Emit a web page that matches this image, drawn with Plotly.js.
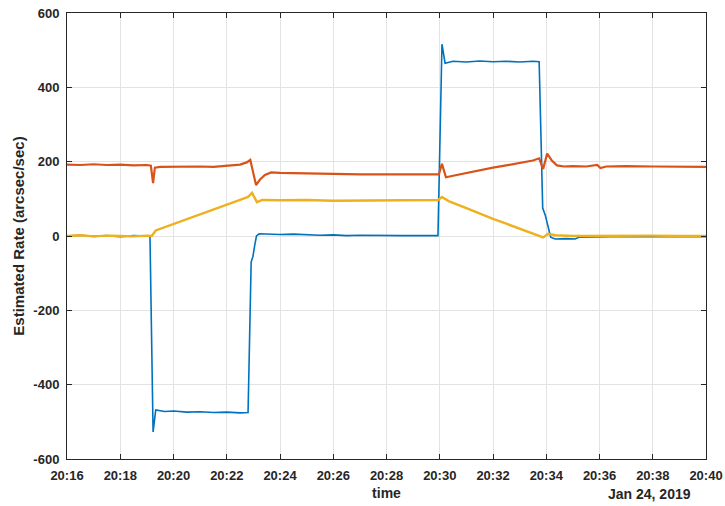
<!DOCTYPE html>
<html>
<head>
<meta charset="utf-8">
<script src="https://cdn.plot.ly/plotly-3.0.1.min.js"></script>
<style>html,body{margin:0;padding:0;background:#fff}#chart{width:725px;height:506px}</style>
</head>
<body>
<div id="chart"></div>
<script>
var day = "2019-01-24 ";

var blueTime = ["20:16:00","20:16:30","20:17:00","20:17:30","20:18:00","20:18:30","20:19:00","20:19:07","20:19:14","20:19:20","20:19:40","20:20:00","20:20:30","20:21:00","20:21:30","20:22:00","20:22:30","20:22:48","20:22:55","20:22:59","20:23:03","20:23:07","20:23:13","20:23:30","20:24:00","20:24:30","20:25:00","20:25:30","20:26:00","20:26:30","20:27:00","20:27:30","20:28:00","20:28:30","20:29:00","20:29:30","20:29:56","20:30:05","20:30:12","20:30:30","20:31:00","20:31:30","20:32:00","20:32:30","20:33:00","20:33:30","20:33:44","20:33:52","20:33:58","20:34:10","20:34:20","20:34:45","20:35:05","20:35:15","20:36:00","20:37:00","20:38:00","20:39:00","20:40:00"];
var blueRate = [0,2,-1,1,-2,1,0,0,-527,-468,-472,-471,-474,-473,-475,-474,-476,-475,-70,-55,-25,0,6,5,4,5,3,2,3,1,2,1,2,1,1,2,1,516,465,470,468,471,469,470,468,470,469,75,55,-3,-8,-7,-8,-3,-2,-1,-2,-1,-2];

var orangeTime = ["20:16:00","20:16:30","20:17:00","20:17:30","20:18:00","20:18:30","20:19:00","20:19:09","20:19:14","20:19:18","20:19:30","20:20:00","20:20:30","20:21:00","20:21:30","20:22:00","20:22:30","20:22:45","20:22:53","20:23:06","20:23:15","20:23:26","20:23:40","20:24:00","20:25:00","20:26:00","20:27:00","20:28:00","20:29:00","20:29:58","20:30:05","20:30:14","20:30:30","20:31:00","20:31:30","20:32:00","20:32:30","20:33:00","20:33:30","20:33:44","20:33:53","20:34:02","20:34:12","20:34:24","20:34:40","20:35:00","20:35:30","20:35:55","20:36:02","20:36:15","20:37:00","20:38:00","20:39:00","20:40:00"];
var orangeRate = [192,191,193,191,192,190,191,189,142,184,186,187,186,187,186,188,192,198,205,137,152,164,171,170,168,167,166,166,165,166,194,158,162,170,177,184,190,196,203,209,180,222,204,190,187,188,187,191,183,187,188,187,186,186];

var yellowTime = ["20:16:00","20:16:30","20:17:00","20:17:30","20:18:00","20:18:30","20:19:00","20:19:11","20:19:20","20:20:00","20:20:30","20:21:00","20:21:30","20:22:00","20:22:30","20:22:48","20:22:57","20:23:08","20:23:20","20:24:00","20:25:00","20:26:00","20:27:00","20:28:00","20:29:00","20:29:56","20:30:05","20:30:20","20:31:00","20:31:30","20:32:00","20:32:30","20:33:00","20:33:30","20:33:53","20:34:04","20:34:20","20:35:00","20:36:00","20:37:00","20:38:00","20:39:00","20:40:00"];
var yellowRate = [0,2,-1,1,0,-1,1,0,15,32,44,58,70,84,97,105,116,91,97,96,97,95,96,95,96,97,105,94,75,60,46,33,20,8,-4,6,2,0,1,0,1,0,0];

var yTickVals = [600,400,200,0,-200,-400,-600];
var yTickText = ["600","400","200","0","-200","-400","-600"];
var xTickVals = ["20:16","20:18","20:20","20:22","20:24","20:26","20:28","20:30","20:32","20:34","20:36","20:38","20:40"];

function full(arr){ return arr.map(function(t){ return day + t; }); }

var traces = [
  {x: full(blueTime), y: blueRate, type: "scatter", mode: "lines", line: {color: "#0072BD", width: 1.6}, hoverinfo: "skip"},
  {x: full(orangeTime), y: orangeRate, type: "scatter", mode: "lines", line: {color: "#D95319", width: 2.2}, hoverinfo: "skip"},
  {x: full(yellowTime), y: yellowRate, type: "scatter", mode: "lines", line: {color: "#EDB120", width: 2.4}, hoverinfo: "skip"}
];

var axisFont = {family: "Liberation Sans, Arial, sans-serif", size: 13, color: "#262626", weight: "bold"};

var layout = {
  width: 725, height: 506,
  margin: {l: 67, r: 19, t: 13, b: 47},
  paper_bgcolor: "#fff", plot_bgcolor: "#fff",
  showlegend: false,
  font: axisFont,
  xaxis: {
    type: "date",
    range: [day + "20:16:00", day + "20:40:00"],
    tickvals: full(xTickVals),
    ticktext: xTickVals,
    ticks: "inside", ticklen: 5, tickcolor: "#262626", tickwidth: 1,
    showline: true, linecolor: "#262626", linewidth: 1, mirror: "allticks",
    showgrid: true, gridcolor: "#e3e3e3", gridwidth: 1,
    zeroline: false,
    tickfont: axisFont,
    ticklabelstandoff: 4,
    title: {text: "time", font: {family: "Liberation Sans, Arial, sans-serif", size: 14, color: "#262626", weight: "bold"}, standoff: 6}
  },
  yaxis: {
    range: [-600, 600],
    tickvals: yTickVals, ticktext: yTickText,
    ticks: "inside", ticklen: 5, tickcolor: "#262626", tickwidth: 1,
    showline: true, linecolor: "#262626", linewidth: 1, mirror: "allticks",
    showgrid: true, gridcolor: "#e3e3e3", gridwidth: 1,
    zeroline: false,
    tickfont: axisFont,
    ticklabelstandoff: 4,
    title: {text: "Estimated Rate (arcsec/sec)", font: {family: "Liberation Sans, Arial, sans-serif", size: 15, color: "#262626", weight: "bold"}, standoff: 5}
  },
  annotations: [{
    text: "Jan 24, 2019", xref: "paper", yref: "paper", x: 1, y: 0,
    xanchor: "right", yanchor: "top", yshift: -25, xshift: -13, showarrow: false,
    font: {family: "Liberation Sans, Arial, sans-serif", size: 14, color: "#262626", weight: "bold"}
  }]
};

Plotly.newPlot("chart", traces, layout, {displayModeBar: false, staticPlot: true});
</script>
</body>
</html>
